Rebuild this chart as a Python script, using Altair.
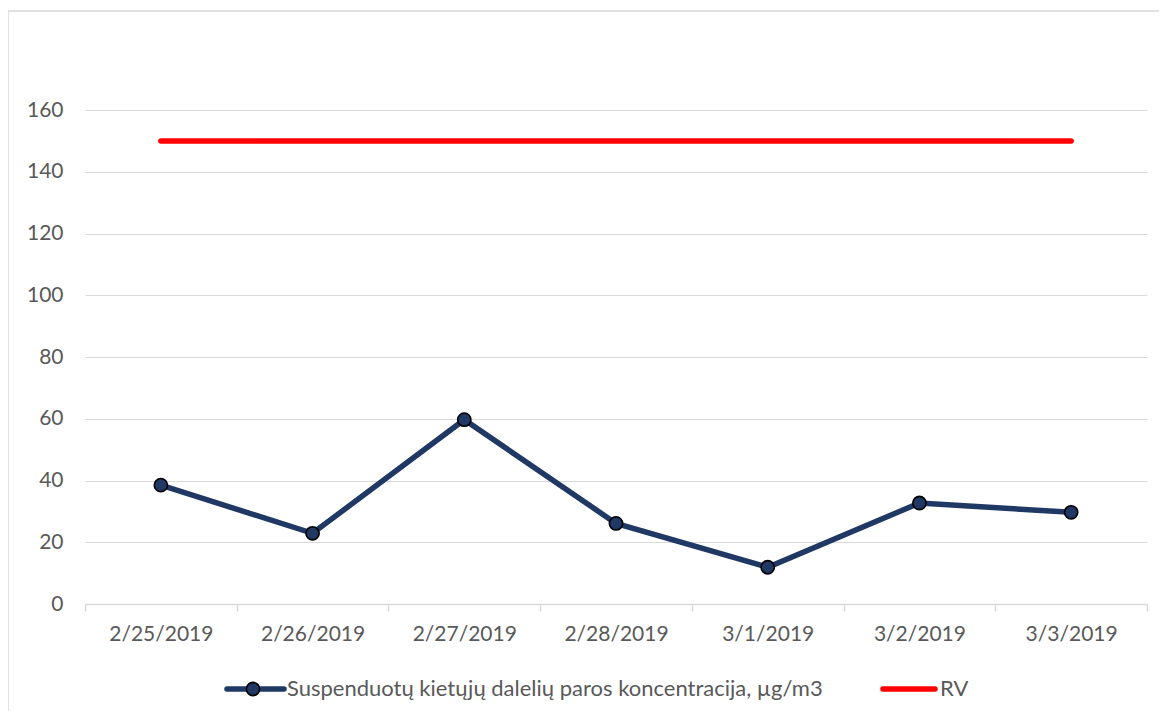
import altair as alt
import pandas as pd

dates = ["2/25/2019", "2/26/2019", "2/27/2019", "2/28/2019", "3/1/2019", "3/2/2019", "3/3/2019"]
pm_values = [38.5, 22.9, 59.7, 26.1, 11.9, 32.7, 29.7]
rv_values = [150, 150, 150, 150, 150, 150, 150]
series_name = "Suspenduotų kietųjų dalelių paros koncentracija, µg/m3"
rv_name = "RV"

df = pd.DataFrame({"date": dates, "pm": pm_values, "rv": rv_values})
one = pd.DataFrame({"a": [0]})

FONT = "Lato"
GRAY = "#595959"
GRID = "#d9d9d9"
NAVY = "#203864"

W, H = 1062, 494

x = alt.X("date:N", sort=dates,
          scale=alt.Scale(paddingInner=0, paddingOuter=0),
          axis=alt.Axis(title=None, labelAngle=0, tickBand="extent", tickSize=7,
                        tickColor=GRID, domainColor=GRID, tickWidth=1.5, domainWidth=1.5,
                        labelPadding=12,
                        labelFontSize=21, labelColor=GRAY, labelFont=FONT, grid=False))
yscale = alt.Scale(domain=[0, 160], nice=False)
yaxis = alt.Axis(title=None, values=list(range(0, 161, 20)), grid=True, gridColor=GRID,
                 gridWidth=1.2,
                 domain=False, ticks=False, labelPadding=22, labelFontSize=21,
                 labelColor=GRAY, labelFont=FONT)

base = alt.Chart(df)

rv_line = base.mark_line(color="#ff0000", strokeWidth=5.5, strokeCap="round").encode(
    x=x, y=alt.Y("rv:Q", scale=yscale, axis=yaxis))
pm_line = base.mark_line(color=NAVY, strokeWidth=5.5).encode(
    x=x, y=alt.Y("pm:Q", scale=yscale, axis=yaxis))
pm_pts = base.mark_point(filled=True, fill=NAVY, stroke="black", strokeWidth=1.6,
                         size=175, opacity=1, shape="circle").encode(
    x=x, y=alt.Y("pm:Q", scale=yscale, axis=yaxis))

o = alt.Chart(one)
border_left = o.mark_rule(color=GRID, strokeWidth=1.5).encode(
    x=alt.value(-77), y=alt.value(-99), y2=alt.value(720))
border_top = o.mark_rule(color=GRID, strokeWidth=1.5).encode(
    x=alt.value(-77), x2=alt.value(1200), y=alt.value(-99))

LY = 579
leg1_line = o.mark_rule(color=NAVY, strokeWidth=5.5, strokeCap="round").encode(
    x=alt.value(142), x2=alt.value(199), y=alt.value(LY))
leg1_pt = o.mark_point(filled=True, fill=NAVY, stroke="black", strokeWidth=1.6,
                       size=175, opacity=1, shape="circle").encode(
    x=alt.value(168), y=alt.value(LY))
leg1_txt = o.mark_text(align="left", baseline="middle", font=FONT, fontSize=22,
                       color=GRAY).encode(
    x=alt.value(202), y=alt.value(LY), text=alt.value(series_name))
leg2_line = o.mark_rule(color="#ff0000", strokeWidth=5.5, strokeCap="round").encode(
    x=alt.value(798), x2=alt.value(850), y=alt.value(LY))
leg2_txt = o.mark_text(align="left", baseline="middle", font=FONT, fontSize=22,
                       color=GRAY).encode(
    x=alt.value(855), y=alt.value(LY), text=alt.value(rv_name))

chart = alt.layer(border_left, border_top, rv_line, pm_line, pm_pts,
                  leg1_line, leg1_pt, leg1_txt, leg2_line, leg2_txt).properties(
    width=W, height=H,
    padding={"left": 77, "top": 102, "right": 12, "bottom": 107},
    autosize=alt.AutoSizeParams(type="none"),
    background="white",
).configure_view(stroke=None)

chart.save("out.html", embed_options={"renderer": "svg", "actions": False})
